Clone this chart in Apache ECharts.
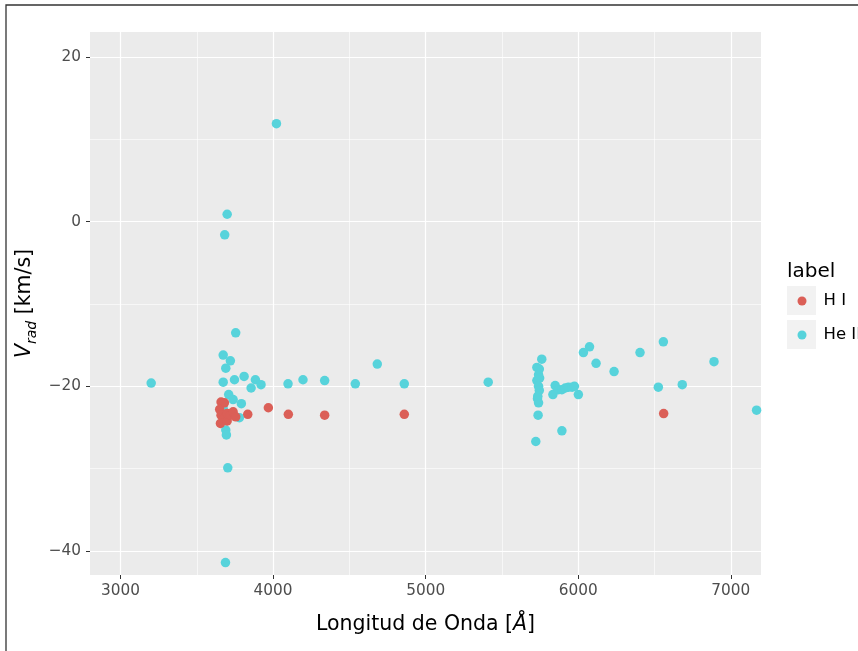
<!DOCTYPE html>
<html>
<head>
<meta charset="utf-8">
<script src="https://cdn.jsdelivr.net/npm/echarts@6/dist/echarts.min.js"></script>
<style>html,body{margin:0;padding:0;background:#fff;}#c{width:858px;height:651px;}</style>
</head>
<body>
<div id="c"></div>
<script>
// Data
const seriesNames = ['H I', 'He II'];
const hI = [
  [3659,-21.9],[3681,-22.0],[3650,-22.8],[3659,-23.5],[3655,-24.5],[3688,-23.7],[3699,-24.2],
  [3699,-23.3],[3720,-23.5],[3738,-23.1],[3755,-23.7],[3834,-23.4],[3969,-22.6],[4100,-23.4],
  [4338,-23.5],[4860,-23.4],[6560,-23.3]
];
const heII = [
  [3201,-19.6],[4022,11.9],[3699,0.9],[3683,-1.6],[3755,-13.5],[3673,-16.2],[3720,-16.9],
  [3690,-17.8],[3673,-19.5],[3747,-19.2],[3810,-18.8],[3884,-19.2],[3921,-19.8],[3856,-20.2],
  [4098,-19.7],[4196,-19.2],[4338,-19.3],[3709,-21.0],[3738,-21.6],[3792,-22.1],[3779,-23.8],
  [3673,-22.7],[3690,-25.3],[3694,-25.9],[3703,-29.9],[3688,-41.4],[4539,-19.7],[4683,-17.3],
  [4860,-19.7],[5410,-19.5],
  [6558,-14.6],[6074,-15.2],[6034,-15.9],[6405,-15.9],[5761,-16.7],[6117,-17.2],[6890,-17.0],
  [6235,-18.2],[6682,-19.8],[6525,-20.1],[7169,-22.9],[5893,-25.4],[5722,-26.7],[5737,-23.5],
  [5729,-17.7],[5745,-17.9],[5740,-18.6],[5729,-19.3],[5747,-19.0],[5740,-20.0],[5745,-20.5],
  [5733,-21.5],[5740,-22.0],[5735,-21.2],
  [5849,-19.9],[5834,-21.0],[5870,-20.4],[5893,-20.4],[5915,-20.2],[5936,-20.1],[5960,-20.1],
  [5975,-20.0],[6001,-21.0]
];
const xTicks = [3000, 4000, 5000, 6000, 7000];
const xMinor = [3500, 4500, 5500, 6500];
const yTicks = [-40, -20, 0, 20];
const yMinor = [-30, -10, 10];
const xRange = [2800, 7198];
const yRange = [-42.91, 23.03];

const colors = ['#db5f57', '#57d3db'];
const FONT = 'DejaVu Sans';
const chart = echarts.init(document.getElementById('c'), null, {renderer: 'canvas'});

const grid = {left: 90, top: 32, width: 671, height: 543, backgroundColor: '#EBEBEB', show: true, borderWidth: 0};

const option = {
  animation: false,
  backgroundColor: '#ffffff',
  textStyle: {fontFamily: FONT},
  title: {
    text: 'label', left: 787, top: 262, padding: 0,
    textStyle: {fontFamily: FONT, fontSize: 20, fontWeight: 'normal', color: '#000'}
  },
  legend: {
    data: seriesNames, padding: 0,
    orient: 'vertical', left: 797.5, top: 292,
    icon: 'circle', itemWidth: 9, itemHeight: 9, itemGap: 16,
    textStyle: {fontFamily: FONT, fontSize: 16.5, color: '#000', lineHeight: 18, padding: [0, 0, 0, 12]}
  },
  graphic: [
    {type: 'rect', z: -1, shape: {x: 787, y: 286, width: 29, height: 29}, style: {fill: '#F2F2F2'}},
    {type: 'rect', z: -1, shape: {x: 787, y: 320, width: 29, height: 29}, style: {fill: '#F2F2F2'}},
    {type: 'rect', z: 100, shape: {x: 6, y: 5, width: 1000, height: 1000}, style: {fill: 'none', stroke: '#333', lineWidth: 1.3}}
  ],
  grid: grid,
  xAxis: [{
    type: 'value', min: xRange[0], max: xRange[1],
    axisLine: {show: false, onZero: false},
    axisTick: {show: true, customValues: xTicks, length: 4, lineStyle: {color: '#333', width: 1}},
    axisLabel: {customValues: xTicks, margin: 9, color: '#4D4D4D', fontSize: 15.3, fontFamily: FONT,
      formatter: v => String(v)},
    splitLine: {show: true, lineStyle: {color: '#ffffff', width: 1.2}},
    name: 'Longitud de Onda [{i|Å}]', nameLocation: 'middle', nameGap: 39,
    nameTextStyle: {fontFamily: FONT, fontSize: 20.5, color: '#000',
      rich: {i: {fontFamily: FONT, fontSize: 20.5, fontStyle: 'italic', color: '#000'}}}
  }, {
    type: 'value', min: xRange[0], max: xRange[1], position: 'top',
    axisLine: {show: false, onZero: false}, axisTick: {show: false, customValues: xMinor},
    axisLabel: {show: false, customValues: xMinor},
    splitLine: {show: true, lineStyle: {color: '#ffffff', width: 0.6}}
  }],
  yAxis: [{
    type: 'value', min: yRange[0], max: yRange[1],
    axisLine: {show: false, onZero: false},
    axisTick: {show: true, customValues: yTicks, length: 4, lineStyle: {color: '#333', width: 1}},
    axisLabel: {customValues: yTicks, margin: 9, color: '#4D4D4D', fontSize: 15.3, fontFamily: FONT,
      formatter: v => (v < 0 ? '\u2212' + Math.abs(v) : String(v))},
    splitLine: {show: true, lineStyle: {color: '#ffffff', width: 1.2}},
    name: '{v|V}{s|rad}{n| [km/s]}', nameLocation: 'middle', nameGap: 51, nameRotate: 90,
    nameMoveOverlap: false,
    nameTextStyle: {fontFamily: FONT, fontSize: 20.5, color: '#000',
      rich: {
        v: {fontFamily: FONT, fontSize: 20.5, fontStyle: 'italic', color: '#000', lineHeight: 28, verticalAlign: 'middle'},
        s: {fontFamily: FONT, fontSize: 14, fontStyle: 'italic', color: '#000', lineHeight: 28, verticalAlign: 'bottom', padding: [9, 0, 0, 0]},
        n: {fontFamily: FONT, fontSize: 20.5, color: '#000', lineHeight: 28, verticalAlign: 'middle'}
      }}
  }, {
    type: 'value', min: yRange[0], max: yRange[1], position: 'right',
    axisLine: {show: false, onZero: false}, axisTick: {show: false, customValues: yMinor},
    axisLabel: {show: false, customValues: yMinor},
    splitLine: {show: true, lineStyle: {color: '#ffffff', width: 0.6}}
  }],
  series: [
    {name: 'He II', type: 'scatter', data: heII, symbolSize: 9.5, itemStyle: {color: colors[1], opacity: 1}, clip: true, z: 3},
    {name: 'H I', type: 'scatter', data: hI, symbolSize: 9.5, itemStyle: {color: colors[0], opacity: 1}, clip: true, z: 4}
  ]
};
chart.setOption(option);
</script>
</body>
</html>
